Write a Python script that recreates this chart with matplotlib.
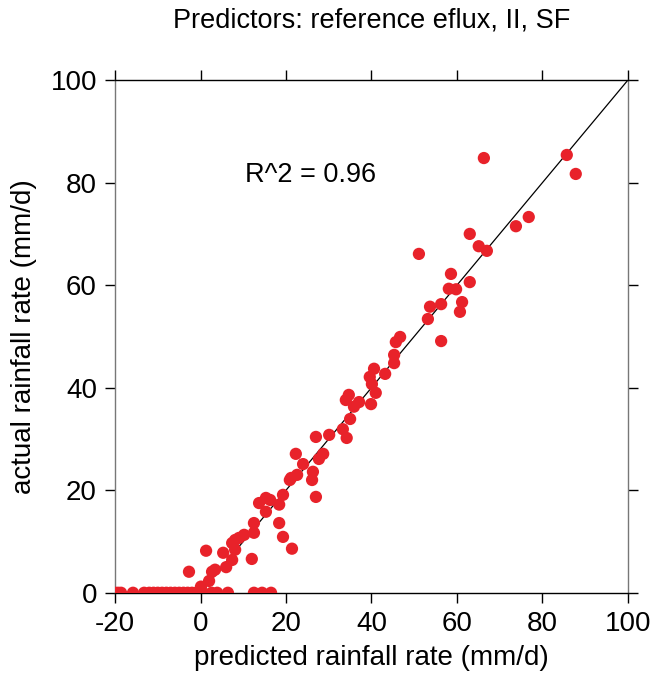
import matplotlib
matplotlib.use("Agg")
from matplotlib import pyplot as plt

plt.rcParams['font.family'] = ['Liberation Sans', 'DejaVu Sans']
plt.rcParams['axes.unicode_minus'] = False

# predicted vs actual rainfall rate (mm/d)
predicted = [
    -20, -19.3, -18.6, -15.8, -13.2, -12, -11, -10, -9, -8, -7, -6, -5, -4,
    -3, -2, -1, 0, 0.5, 2.6, 3.9, 6.4, 12.5, 14.4, 16.5,
    -2.7, 1.3, 2.0, 0.1, 2.7, 3.4, 6.0, 7.4, 5.3, 8.1, 7.4, 8.1, 9.0, 10.2,
    12.0, 12.5, 12.5, 13.7, 15.3, 15.3, 16.3, 18.4, 18.4, 19.3, 19.3, 21.4,
    20.9, 21.2, 22.3, 22.6, 24.0, 26.1, 26.3, 27.0, 27.7, 28.7, 27.0, 30.1,
    33.3, 34.2, 35.0, 34.0, 34.7, 35.9, 37.1, 39.9, 41.0, 40.1, 39.6, 40.6,
    43.2, 45.3, 45.3, 45.7, 46.7, 51.1, 53.2, 53.7, 56.3, 56.3, 58.1, 58.6,
    59.8, 60.7, 61.2, 63.0, 63.0, 65.1, 66.3, 67.0, 73.8, 76.8, 85.7, 87.8,
]
actual = [
    0, 0, 0, 0, 0, 0, 0, 0, 0, 0, 0, 0, 0, 0,
    0, 0, 0, 0, 0, 0, 0, 0, 0, 0, 0,
    4.1, 8.2, 2.3, 1.2, 4.1, 4.5, 5.0, 6.4, 7.8, 8.4, 9.7, 10.3, 10.7, 11.3,
    6.6, 11.7, 13.6, 17.5, 18.5, 15.8, 18.1, 17.2, 13.6, 10.9, 19.1, 8.6,
    22.0, 22.4, 27.1, 23.0, 25.1, 22.0, 23.6, 18.7, 26.1, 27.1, 30.4, 30.8,
    31.9, 30.2, 33.9, 37.6, 38.6, 36.3, 37.2, 36.8, 39.0, 40.7, 42.1, 43.7,
    42.7, 44.8, 46.4, 48.9, 49.9, 66.1, 53.4, 55.8, 56.3, 49.1, 59.3, 62.2,
    59.2, 54.8, 56.7, 60.6, 70.0, 67.6, 84.8, 66.7, 71.5, 73.3, 85.4, 81.7,
]

fig = plt.figure(figsize=(6.5, 6.79), dpi=100)
ax = fig.add_axes([0.177, 0.127, 0.789, 0.755])

ax.plot([0, 100], [0, 100], color='black', lw=0.9, zorder=2)
ax.scatter(predicted, actual, s=78, color='#e8222a', edgecolors='none', zorder=3)

ax.text(10.5, 81.5, 'R^2 = 0.96', fontsize=19.5, va='center', ha='left')

ax.set_xlim(-20, 100)
ax.set_ylim(0, 100)
ax.set_xticks(range(-20, 101, 20))
ax.set_yticks(range(0, 101, 20))
ax.tick_params(axis='both', direction='out', length=7, width=1, labelsize=20,
               top=True, right=True, pad=6)
for side in ['left', 'right', 'top', 'bottom']:
    ax.spines[side].set_linewidth(1)
ax.spines['left'].set_color('#777777')
ax.spines['right'].set_color('#777777')

ax.set_xlabel('predicted rainfall rate (mm/d)', fontsize=20, labelpad=6)
ax.set_ylabel('actual rainfall rate (mm/d)', fontsize=20, labelpad=10)
ax.set_title('Predictors: reference eflux, II, SF', fontsize=19.5, pad=38)

fig.savefig('out.png', dpi=100)
